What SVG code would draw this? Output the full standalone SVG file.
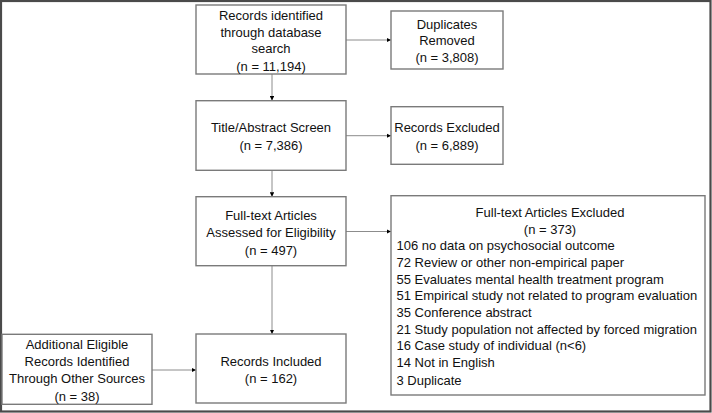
<svg xmlns="http://www.w3.org/2000/svg" width="712" height="413" viewBox="0 0 712 413">
<defs>
<style>
.box{fill:#ffffff;stroke:#7a7a7a;stroke-width:1.4}
.t{font-family:"Liberation Sans",Arial,sans-serif;font-size:13px;fill:#111111;text-anchor:middle}
.l{font-family:"Liberation Sans",Arial,sans-serif;font-size:13px;fill:#111111;text-anchor:start}
.c{stroke:#8c8c8c;stroke-width:1;fill:none;marker-end:url(#ah)}
</style>
<marker id="ah" viewBox="0 0 6 6" refX="6" refY="3" markerWidth="4.5" markerHeight="4.5" orient="auto" markerUnits="userSpaceOnUse">
<path d="M0,0 L6,3 L0,6 Z" fill="#000"/>
</marker>
</defs>
<rect x="0" y="0" width="712" height="413" fill="#ffffff"/>
<rect x="1" y="1" width="709.5" height="410.5" fill="none" stroke="#4a4a4a" stroke-width="2.2"/>
<g id="connectors">
<line class="c" x1="346" y1="40" x2="391" y2="40"/>
<line class="c" x1="272" y1="74" x2="272" y2="100.5"/>
<line class="c" x1="346" y1="135.7" x2="391" y2="135.7"/>
<line class="c" x1="272" y1="170.3" x2="272" y2="196.7"/>
<line class="c" x1="346" y1="231.5" x2="391" y2="231.5"/>
<line class="c" x1="272" y1="265.7" x2="272" y2="334"/>
<line class="c" x1="152" y1="370" x2="196" y2="370"/>
</g>
<g id="records-identified">
<rect class="box" x="196" y="5" width="150" height="69"/>
<text class="t" x="271" y="19.5">Records identified</text>
<text class="t" x="271" y="36.8">through database</text>
<text class="t" x="271" y="52.8">search</text>
<text class="t" x="271" y="70.5">(n = 11,194)</text>
</g>
<g id="duplicates-removed">
<rect class="box" x="391" y="11" width="112" height="58"/>
<text class="t" x="447" y="28.5">Duplicates</text>
<text class="t" x="447" y="44.5">Removed</text>
<text class="t" x="447" y="61.8">(n = 3,808)</text>
</g>
<g id="title-abstract-screen">
<rect class="box" x="196" y="100.7" width="150" height="69.6"/>
<text class="t" x="271" y="132.2">Title/Abstract Screen</text>
<text class="t" x="271" y="150.2">(n = 7,386)</text>
</g>
<g id="records-excluded">
<rect class="box" x="391" y="106.7" width="112" height="57.6"/>
<text class="t" x="447" y="132.2">Records Excluded</text>
<text class="t" x="447" y="150.2">(n = 6,889)</text>
</g>
<g id="full-text-assessed">
<rect class="box" x="196" y="196.7" width="150" height="69"/>
<text class="t" x="271" y="219.5">Full-text Articles</text>
<text class="t" x="271" y="236.8">Assessed for Eligibility</text>
<text class="t" x="271" y="255.2">(n = 497)</text>
</g>
<g id="full-text-excluded">
<rect class="box" x="391" y="195.7" width="314" height="199.3"/>
<text class="t" x="550" y="216.8">Full-text Articles Excluded</text>
<text class="t" x="550" y="233.8">(n = 373)</text>
<text class="l" x="396.5" y="250.2">106 no data on psychosocial outcome</text>
<text class="l" x="396.5" y="266.8">72 Review or other non-empirical paper</text>
<text class="l" x="396.5" y="283.5">55 Evaluates mental health treatment program</text>
<text class="l" x="396.5" y="300.2">51 Empirical study not related to program evaluation</text>
<text class="l" x="396.5" y="316.8">35 Conference abstract</text>
<text class="l" x="396.5" y="333.8">21 Study population not affected by forced migration</text>
<text class="l" x="396.5" y="350.2">16 Case study of individual (n&lt;6)</text>
<text class="l" x="396.5" y="367.2">14 Not in English</text>
<text class="l" x="396.5" y="384.5">3 Duplicate</text>
</g>
<g id="additional-records">
<rect class="box" x="2" y="334.3" width="150" height="70"/>
<text class="t" x="77" y="348.8">Additional Eligible</text>
<text class="t" x="77" y="365.8">Records Identified</text>
<text class="t" x="77" y="383.2">Through Other Sources</text>
<text class="t" x="77" y="400.5">(n = 38)</text>
</g>
<g id="records-included">
<rect class="box" x="196" y="334" width="150" height="69"/>
<text class="t" x="271" y="366.2">Records Included</text>
<text class="t" x="271" y="382.8">(n = 162)</text>
</g>
</svg>
